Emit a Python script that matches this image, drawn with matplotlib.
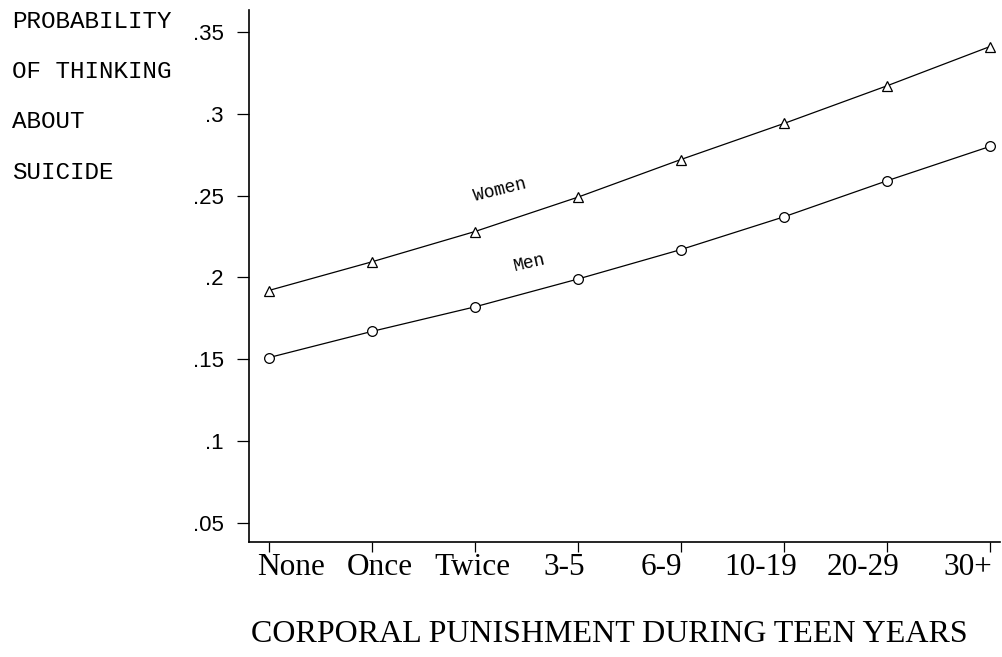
import matplotlib
matplotlib.use('Agg')
import matplotlib.pyplot as plt
import matplotlib.transforms as mtransforms

# categories on the x axis
categories = ['None', 'Once', 'Twice', '3-5', '6-9', '10-19', '20-29', '30+']
# probability
women = [0.192, 0.2095, 0.228, 0.249, 0.272, 0.294, 0.317, 0.341]
men = [0.151, 0.167, 0.182, 0.199, 0.217, 0.237, 0.259, 0.280]
yticks = [0.05, 0.1, 0.15, 0.2, 0.25, 0.3, 0.35]
ytick_labels = ['.05', '.1', '.15', '.2', '.25', '.3', '.35']

fig = plt.figure(figsize=(10.03, 6.57), dpi=100)
ax = fig.add_axes([0.248, 0.175, 0.749, 0.81])

x = list(range(len(categories)))
ax.plot(x, women, color='black', lw=0.9, marker='^', ms=6.5,
        mfc='white', mec='black', mew=0.9)
ax.plot(x, men, color='black', lw=0.9, marker='o', ms=7,
        mfc='white', mec='black', mew=0.9)

# line labels
ax.text(2.24, 0.2535, 'Women', family='Liberation Mono', fontsize=13,
        rotation=14, ha='center', va='center')
ax.text(2.53, 0.209, 'Men', family='Liberation Mono', fontsize=13,
        rotation=13, ha='center', va='center')

ax.set_xlim(-0.194, 7.097)
ax.set_ylim(0.0384, 0.3634)
ax.set_xticks(x)
ax.set_xticklabels(categories, family='Liberation Serif', fontsize=22.5)
ax.set_yticks(yticks)
ax.set_yticklabels(ytick_labels, family='Liberation Sans', fontsize=16)
ax.tick_params(axis='both', direction='out', width=0.9, color='black')
ax.tick_params(axis='x', length=7, pad=1)
ax.tick_params(axis='y', length=9, pad=9)

# the category labels sit a little off their ticks in the original
label_shift_px = [22, 8, -2, -14, -20, -23, -24, -22]
for lab, dx in zip(ax.get_xticklabels(), label_shift_px):
    lab.set_transform(lab.get_transform() +
                      mtransforms.ScaledTranslation(dx / 100, 0, fig.dpi_scale_trans))

ax.spines['top'].set_visible(False)
ax.spines['right'].set_visible(False)
ax.spines['left'].set_linewidth(1.2)
ax.spines['bottom'].set_linewidth(1.2)

# y label as stacked text at the top left
ylabel_lines = ['PROBABILITY', 'OF THINKING', 'ABOUT', 'SUICIDE']
for i, line in enumerate(ylabel_lines):
    fig.text(0.012, 1 - (21 + 50.5 * i) / 657, line, family='Liberation Mono',
             fontsize=17.5, ha='left', va='center')

fig.text(0.607, 1 - 634 / 657, 'CORPORAL PUNISHMENT DURING TEEN YEARS',
         family='Liberation Serif', fontsize=23, ha='center', va='center')

fig.savefig('out.png', dpi=100, facecolor='white')
